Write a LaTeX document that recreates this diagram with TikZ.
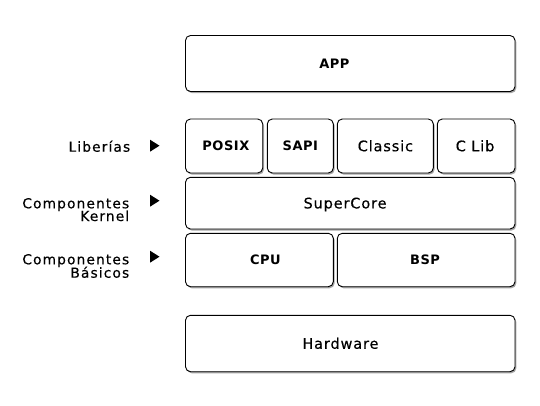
\documentclass[tikz,border=0pt]{standalone}
\usepackage{fontspec}
\setmainfont{DejaVu Sans}
\newfontfamily\lblfont{DejaVu Sans}[LetterSpace=8,FakeBold=0.35]
\newfontfamily\boxfont{DejaVu Sans}[LetterSpace=6,FakeBold=0.35]
\newfontfamily\capfont{DejaVu Sans}[LetterSpace=4]
\usetikzlibrary{shadows}
\tikzset{
  layer/.style={draw=black, line width=0.9pt, rounded corners=5pt, fill=white,
    drop shadow={shadow xshift=1.3pt, shadow yshift=-1.6pt, fill=black, opacity=0.35},
    inner sep=0pt},
  txt/.style={inner sep=0pt, text height=10.5pt, text depth=0pt,
    font=\boxfont\fontsize{14.5}{16}\selectfont},
  captxt/.style={inner sep=0pt, text height=9.5pt, text depth=0pt,
    font=\capfont\bfseries\fontsize{13}{15}\selectfont},
  lbl/.style={anchor=base east, inner sep=0pt, font=\lblfont\fontsize{13.8}{14}\selectfont},
  tri/.style={fill=black}
}
\begin{document}
\begin{tikzpicture}[x=1pt,y=-1pt]
\useasboundingbox (0,0) rectangle (540,406);
\fill[white] (0,0) rectangle (540,406);
% boxes
\node[layer, minimum width=329.5pt, minimum height=56pt,
  label={[captxt, xshift=-15.8pt]center:APP}] (app) at (350.25,63.5) {};
\node[layer, minimum width=77.2pt, minimum height=54pt,
  label={[captxt, xshift=1.8pt]center:POSIX}] (posix) at (224.1,146) {};
\node[layer, minimum width=66pt, minimum height=54pt,
  label={[captxt, xshift=0.1pt]center:SAPI}] (sapi) at (300.3,146) {};
\node[layer, minimum width=96pt, minimum height=54pt,
  label={[txt, xshift=0.1pt]center:Classic}] (classic) at (385.3,146) {};
\node[layer, minimum width=77.7pt, minimum height=54pt,
  label={[txt, xshift=-1.1pt]center:C Lib}] (clib) at (476.15,146) {};
\node[layer, minimum width=329.5pt, minimum height=51.7pt,
  label={[txt, xshift=-5.2pt]center:SuperCore}] (super) at (350.25,203.15) {};
\node[layer, minimum width=147.8pt, minimum height=53.4pt,
  label={[captxt, xshift=6pt]center:CPU}] (cpu) at (259.4,260) {};
\node[layer, minimum width=177.7pt, minimum height=53.4pt,
  label={[captxt, xshift=-1.1pt]center:BSP}] (bsp) at (426.15,260) {};
\node[layer, minimum width=329.5pt, minimum height=56.4pt,
  label={[txt, xshift=-9.8pt]center:Hardware}] (hw) at (350.25,343.5) {};
% labels
\node[lbl] (lib) at (130.4,151.7) {Liberías};
\node[lbl] (comp1) at (129.4,208.3) {Componentes};
\node[lbl] (kern) at (129.4,221) {Kernel};
\node[lbl] (comp2) at (129.4,264.3) {Componentes};
\node[lbl] (bas) at (129.4,277.7) {Básicos};
% markers
\fill[tri] (150,139.7) -- (159.5,145.7) -- (150,151.7) -- cycle;
\fill[tri] (150,194.7) -- (159.5,200.7) -- (150,206.7) -- cycle;
\fill[tri] (150,250.7) -- (159.5,256.7) -- (150,262.7) -- cycle;
\end{tikzpicture}
\end{document}
